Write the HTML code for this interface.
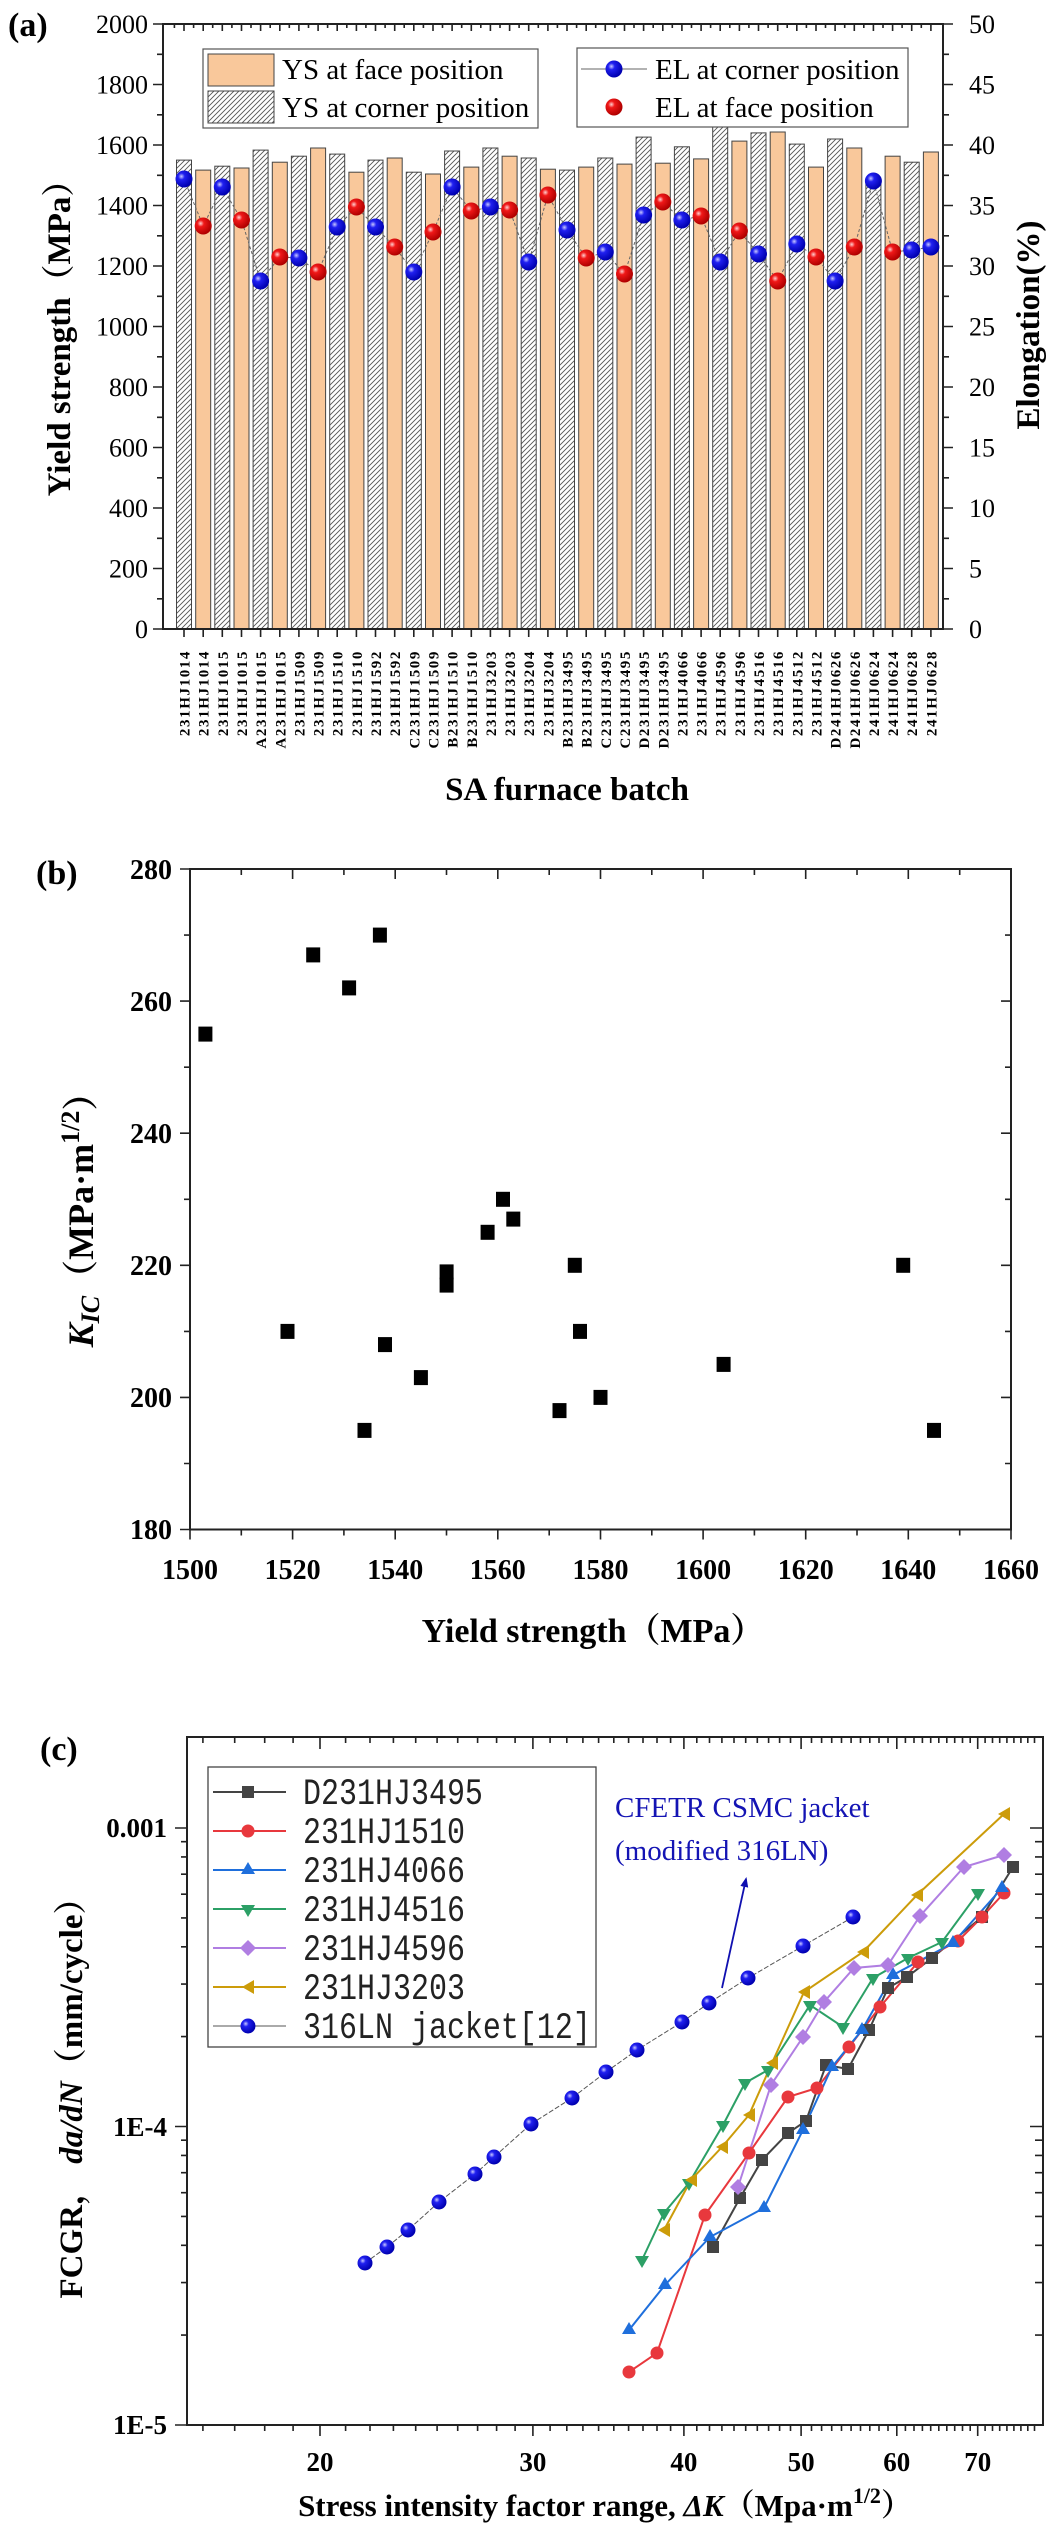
<!DOCTYPE html>
<html><head><meta charset="utf-8"><style>
html,body{margin:0;padding:0;background:#fff;}
svg{display:block;}
.t{font-family:"Liberation Serif","Noto Serif CJK SC",serif;}
.b{font-weight:bold;}
</style></head><body>
<svg width="1062" height="2534" viewBox="0 0 1062 2534" xmlns="http://www.w3.org/2000/svg" class="t">
<defs>
<pattern id="hatch" patternUnits="userSpaceOnUse" width="5" height="5"><rect width="5" height="5" fill="#fff"/><path d="M-1,6 L6,-1 M-1,1 L1,-1 M4,6 L6,4" stroke="#555" stroke-width="0.9"/></pattern>
<radialGradient id="gb" cx="35%" cy="35%" r="65%"><stop offset="0" stop-color="#c8c8ff"/><stop offset="0.3" stop-color="#2020f0"/><stop offset="1" stop-color="#0000b0"/></radialGradient>
<radialGradient id="gr" cx="35%" cy="35%" r="65%"><stop offset="0" stop-color="#ffd0d0"/><stop offset="0.3" stop-color="#f01818"/><stop offset="1" stop-color="#b00000"/></radialGradient>
<marker id="ah" markerWidth="10" markerHeight="10" refX="8" refY="5" orient="auto" markerUnits="userSpaceOnUse"><path d="M0,1 L10,5 L0,9 Z" fill="#1010b0"/></marker>
</defs>

<!-- ================= PANEL A ================= -->
<text x="8" y="36" class="b" font-size="34">(a)</text>
<g stroke="#444" stroke-width="1">
<rect x="176.5" y="160.1" width="15" height="468.9" fill="url(#hatch)"/>
<rect x="195.7" y="170.1" width="15" height="458.9" fill="#f9c89b"/>
<rect x="214.8" y="166.2" width="15" height="462.8" fill="url(#hatch)"/>
<rect x="234" y="168" width="15" height="461" fill="#f9c89b"/>
<rect x="253.1" y="150.1" width="15" height="478.9" fill="url(#hatch)"/>
<rect x="272.3" y="162.2" width="15" height="466.8" fill="#f9c89b"/>
<rect x="291.4" y="156.2" width="15" height="472.8" fill="url(#hatch)"/>
<rect x="310.6" y="148" width="15" height="481" fill="#f9c89b"/>
<rect x="329.7" y="154.1" width="15" height="474.9" fill="url(#hatch)"/>
<rect x="348.9" y="172.2" width="15" height="456.8" fill="#f9c89b"/>
<rect x="368" y="160.1" width="15" height="468.9" fill="url(#hatch)"/>
<rect x="387.2" y="158" width="15" height="471" fill="#f9c89b"/>
<rect x="406.3" y="172.2" width="15" height="456.8" fill="url(#hatch)"/>
<rect x="425.5" y="174" width="15" height="455" fill="#f9c89b"/>
<rect x="444.6" y="151" width="15" height="478" fill="url(#hatch)"/>
<rect x="463.8" y="167.1" width="15" height="461.9" fill="#f9c89b"/>
<rect x="482.9" y="148" width="15" height="481" fill="url(#hatch)"/>
<rect x="502.1" y="156.2" width="15" height="472.8" fill="#f9c89b"/>
<rect x="521.2" y="158" width="15" height="471" fill="url(#hatch)"/>
<rect x="540.4" y="169.2" width="15" height="459.8" fill="#f9c89b"/>
<rect x="559.5" y="170.1" width="15" height="458.9" fill="url(#hatch)"/>
<rect x="578.7" y="167.1" width="15" height="461.9" fill="#f9c89b"/>
<rect x="597.8" y="158" width="15" height="471" fill="url(#hatch)"/>
<rect x="617" y="164.1" width="15" height="464.9" fill="#f9c89b"/>
<rect x="636.1" y="137.1" width="15" height="491.9" fill="url(#hatch)"/>
<rect x="655.3" y="163.2" width="15" height="465.8" fill="#f9c89b"/>
<rect x="674.4" y="146.8" width="15" height="482.2" fill="url(#hatch)"/>
<rect x="693.6" y="158.9" width="15" height="470.1" fill="#f9c89b"/>
<rect x="712.7" y="126.8" width="15" height="502.2" fill="url(#hatch)"/>
<rect x="731.9" y="141.1" width="15" height="487.9" fill="#f9c89b"/>
<rect x="751" y="132.9" width="15" height="496.1" fill="url(#hatch)"/>
<rect x="770.2" y="132" width="15" height="497" fill="#f9c89b"/>
<rect x="789.3" y="144.1" width="15" height="484.9" fill="url(#hatch)"/>
<rect x="808.5" y="167.1" width="15" height="461.9" fill="#f9c89b"/>
<rect x="827.6" y="139" width="15" height="490" fill="url(#hatch)"/>
<rect x="846.8" y="148" width="15" height="481" fill="#f9c89b"/>
<rect x="865.9" y="178.3" width="15" height="450.7" fill="url(#hatch)"/>
<rect x="885.1" y="156.2" width="15" height="472.8" fill="#f9c89b"/>
<rect x="904.2" y="162.2" width="15" height="466.8" fill="url(#hatch)"/>
<rect x="923.4" y="152" width="15" height="477" fill="#f9c89b"/>
</g>
<polyline fill="none" stroke="#666" stroke-width="1" stroke-dasharray="3,2" points="184,179 203.2,226 222.3,187 241.5,220 260.6,281 279.8,257 298.9,258 318.1,272 337.2,227 356.4,207 375.5,227 394.7,247 413.8,272 433,232 452.1,187 471.3,211 490.4,207 509.6,210 528.7,262 547.9,195 567,230 586.2,258 605.3,252 624.5,274 643.6,215 662.8,202 681.9,220 701.1,216 720.2,262 739.4,231 758.5,254 777.7,281 796.8,244 816,257 835.1,281 854.3,247 873.4,181 892.6,252 911.7,250 930.9,247"/>
<g>
<circle cx="184" cy="179" r="8.5" fill="url(#gb)"/><circle cx="203.2" cy="226" r="8.5" fill="url(#gr)"/><circle cx="222.3" cy="187" r="8.5" fill="url(#gb)"/><circle cx="241.5" cy="220" r="8.5" fill="url(#gr)"/><circle cx="260.6" cy="281" r="8.5" fill="url(#gb)"/><circle cx="279.8" cy="257" r="8.5" fill="url(#gr)"/><circle cx="298.9" cy="258" r="8.5" fill="url(#gb)"/><circle cx="318.1" cy="272" r="8.5" fill="url(#gr)"/><circle cx="337.2" cy="227" r="8.5" fill="url(#gb)"/><circle cx="356.4" cy="207" r="8.5" fill="url(#gr)"/><circle cx="375.5" cy="227" r="8.5" fill="url(#gb)"/><circle cx="394.7" cy="247" r="8.5" fill="url(#gr)"/><circle cx="413.8" cy="272" r="8.5" fill="url(#gb)"/><circle cx="433" cy="232" r="8.5" fill="url(#gr)"/><circle cx="452.1" cy="187" r="8.5" fill="url(#gb)"/><circle cx="471.3" cy="211" r="8.5" fill="url(#gr)"/><circle cx="490.4" cy="207" r="8.5" fill="url(#gb)"/><circle cx="509.6" cy="210" r="8.5" fill="url(#gr)"/><circle cx="528.7" cy="262" r="8.5" fill="url(#gb)"/><circle cx="547.9" cy="195" r="8.5" fill="url(#gr)"/><circle cx="567" cy="230" r="8.5" fill="url(#gb)"/><circle cx="586.2" cy="258" r="8.5" fill="url(#gr)"/><circle cx="605.3" cy="252" r="8.5" fill="url(#gb)"/><circle cx="624.5" cy="274" r="8.5" fill="url(#gr)"/><circle cx="643.6" cy="215" r="8.5" fill="url(#gb)"/><circle cx="662.8" cy="202" r="8.5" fill="url(#gr)"/><circle cx="681.9" cy="220" r="8.5" fill="url(#gb)"/><circle cx="701.1" cy="216" r="8.5" fill="url(#gr)"/><circle cx="720.2" cy="262" r="8.5" fill="url(#gb)"/><circle cx="739.4" cy="231" r="8.5" fill="url(#gr)"/><circle cx="758.5" cy="254" r="8.5" fill="url(#gb)"/><circle cx="777.7" cy="281" r="8.5" fill="url(#gr)"/><circle cx="796.8" cy="244" r="8.5" fill="url(#gb)"/><circle cx="816" cy="257" r="8.5" fill="url(#gr)"/><circle cx="835.1" cy="281" r="8.5" fill="url(#gb)"/><circle cx="854.3" cy="247" r="8.5" fill="url(#gr)"/><circle cx="873.4" cy="181" r="8.5" fill="url(#gb)"/><circle cx="892.6" cy="252" r="8.5" fill="url(#gr)"/><circle cx="911.7" cy="250" r="8.5" fill="url(#gb)"/><circle cx="930.9" cy="247" r="8.5" fill="url(#gb)"/>
</g>
<!-- legends A -->
<rect x="203" y="49" width="335" height="79" fill="#fff" stroke="#555" stroke-width="1.2"/>
<rect x="208" y="54" width="66" height="32" fill="#f9c89b" stroke="#444"/>
<rect x="208" y="91" width="66" height="32" fill="url(#hatch)" stroke="#444"/>
<text x="282" y="79" font-size="29">YS at face position</text>
<text x="282" y="117" font-size="29">YS at corner position</text>
<rect x="577" y="48" width="331" height="79" fill="#fff" stroke="#555" stroke-width="1.2"/>
<line x1="581" y1="69" x2="647" y2="69" stroke="#666" stroke-width="1"/>
<circle cx="614" cy="69" r="8.5" fill="url(#gb)"/>
<circle cx="614" cy="107" r="8.5" fill="url(#gr)"/>
<text x="655" y="79" font-size="29">EL at corner position</text>
<text x="655" y="117" font-size="29">EL at face position</text>
<!-- axes A -->
<rect x="163" y="24" width="780" height="605" fill="none" stroke="#222" stroke-width="2"/>
<path stroke="#222" stroke-width="1.6" fill="none" d="M153,629h10M153,568.5h10M153,508h10M153,447.5h10M153,387h10M153,326.5h10M153,266h10M153,205.5h10M153,145h10M153,84.5h10M153,24h10
M157,598.8h6M157,538.3h6M157,477.8h6M157,417.3h6M157,356.8h6M157,296.3h6M157,235.8h6M157,175.3h6M157,114.8h6M157,54.3h6
M943,629h10M943,568.5h10M943,508h10M943,447.5h10M943,387h10M943,326.5h10M943,266h10M943,205.5h10M943,145h10M943,84.5h10M943,24h10
M943,598.8h6M943,538.3h6M943,477.8h6M943,417.3h6M943,356.8h6M943,296.3h6M943,235.8h6M943,175.3h6M943,114.8h6M943,54.3h6
M184,629v8M203.2,629v8M222.3,629v8M241.5,629v8M260.6,629v8M279.8,629v8M298.9,629v8M318.1,629v8M337.2,629v8M356.4,629v8M375.5,629v8M394.7,629v8M413.8,629v8M433,629v8M452.1,629v8M471.3,629v8M490.4,629v8M509.6,629v8M528.7,629v8M547.9,629v8M567,629v8M586.2,629v8M605.3,629v8M624.5,629v8M643.6,629v8M662.8,629v8M681.9,629v8M701.1,629v8M720.2,629v8M739.4,629v8M758.5,629v8M777.7,629v8M796.8,629v8M816,629v8M835.1,629v8M854.3,629v8M873.4,629v8M892.6,629v8M911.7,629v8M930.9,629v8
M184,24v7M203.2,24v7M222.3,24v7M241.5,24v7M260.6,24v7M279.8,24v7M298.9,24v7M318.1,24v7M337.2,24v7M356.4,24v7M375.5,24v7M394.7,24v7M413.8,24v7M433,24v7M452.1,24v7M471.3,24v7M490.4,24v7M509.6,24v7M528.7,24v7M547.9,24v7M567,24v7M586.2,24v7M605.3,24v7M624.5,24v7M643.6,24v7M662.8,24v7M681.9,24v7M701.1,24v7M720.2,24v7M739.4,24v7M758.5,24v7M777.7,24v7M796.8,24v7M816,24v7M835.1,24v7M854.3,24v7M873.4,24v7M892.6,24v7M911.7,24v7M930.9,24v7
M174.4,24v4M193.6,24v4M212.7,24v4M231.9,24v4M251,24v4M270.2,24v4M289.3,24v4M308.5,24v4M327.6,24v4M346.8,24v4M365.9,24v4M385.1,24v4M404.2,24v4M423.4,24v4M442.5,24v4M461.7,24v4M480.8,24v4M500,24v4M519.1,24v4M538.3,24v4M557.4,24v4M576.6,24v4M595.7,24v4M614.9,24v4M634,24v4M653.2,24v4M672.3,24v4M691.5,24v4M710.6,24v4M729.8,24v4M748.9,24v4M768.1,24v4M787.2,24v4M806.4,24v4M825.5,24v4M844.7,24v4M863.8,24v4M883,24v4M902.1,24v4M921.3,24v4"/>
<g font-size="26" text-anchor="end">
<text x="148" y="638">0</text><text x="148" y="577.5">200</text><text x="148" y="517">400</text><text x="148" y="456.5">600</text><text x="148" y="396">800</text><text x="148" y="335.5">1000</text><text x="148" y="275">1200</text><text x="148" y="214.5">1400</text><text x="148" y="154">1600</text><text x="148" y="93.5">1800</text><text x="148" y="33">2000</text>
</g>
<g font-size="26">
<text x="969" y="638">0</text><text x="969" y="577.5">5</text><text x="969" y="517">10</text><text x="969" y="456.5">15</text><text x="969" y="396">20</text><text x="969" y="335.5">25</text><text x="969" y="275">30</text><text x="969" y="214.5">35</text><text x="969" y="154">40</text><text x="969" y="93.5">45</text><text x="969" y="33">50</text>
</g>
<text transform="translate(70,330) rotate(-90)" text-anchor="middle" class="b" font-size="33">Yield strength（MPa）</text>
<text transform="translate(1039,325) rotate(-90)" text-anchor="middle" class="b" font-size="33">Elongation(%)</text>
<g font-size="15" class="b" text-anchor="end" letter-spacing="1.6">
<text transform="translate(189.5,650) rotate(-90)">231HJ1014</text>
<text transform="translate(208.7,650) rotate(-90)">231HJ1014</text>
<text transform="translate(227.8,650) rotate(-90)">231HJ1015</text>
<text transform="translate(247,650) rotate(-90)">231HJ1015</text>
<text transform="translate(266.1,650) rotate(-90)">A231HJ1015</text>
<text transform="translate(285.3,650) rotate(-90)">A231HJ1015</text>
<text transform="translate(304.4,650) rotate(-90)">231HJ1509</text>
<text transform="translate(323.6,650) rotate(-90)">231HJ1509</text>
<text transform="translate(342.7,650) rotate(-90)">231HJ1510</text>
<text transform="translate(361.9,650) rotate(-90)">231HJ1510</text>
<text transform="translate(381,650) rotate(-90)">231HJ1592</text>
<text transform="translate(400.2,650) rotate(-90)">231HJ1592</text>
<text transform="translate(419.3,650) rotate(-90)">C231HJ1509</text>
<text transform="translate(438.5,650) rotate(-90)">C231HJ1509</text>
<text transform="translate(457.6,650) rotate(-90)">B231HJ1510</text>
<text transform="translate(476.8,650) rotate(-90)">B231HJ1510</text>
<text transform="translate(495.9,650) rotate(-90)">231HJ3203</text>
<text transform="translate(515.1,650) rotate(-90)">231HJ3203</text>
<text transform="translate(534.2,650) rotate(-90)">231HJ3204</text>
<text transform="translate(553.4,650) rotate(-90)">231HJ3204</text>
<text transform="translate(572.5,650) rotate(-90)">B231HJ3495</text>
<text transform="translate(591.7,650) rotate(-90)">B231HJ3495</text>
<text transform="translate(610.8,650) rotate(-90)">C231HJ3495</text>
<text transform="translate(630,650) rotate(-90)">C231HJ3495</text>
<text transform="translate(649.1,650) rotate(-90)">D231HJ3495</text>
<text transform="translate(668.3,650) rotate(-90)">D231HJ3495</text>
<text transform="translate(687.4,650) rotate(-90)">231HJ4066</text>
<text transform="translate(706.6,650) rotate(-90)">231HJ4066</text>
<text transform="translate(725.7,650) rotate(-90)">231HJ4596</text>
<text transform="translate(744.9,650) rotate(-90)">231HJ4596</text>
<text transform="translate(764,650) rotate(-90)">231HJ4516</text>
<text transform="translate(783.2,650) rotate(-90)">231HJ4516</text>
<text transform="translate(802.3,650) rotate(-90)">231HJ4512</text>
<text transform="translate(821.5,650) rotate(-90)">231HJ4512</text>
<text transform="translate(840.6,650) rotate(-90)">D241HJ0626</text>
<text transform="translate(859.8,650) rotate(-90)">D241HJ0626</text>
<text transform="translate(878.9,650) rotate(-90)">241HJ0624</text>
<text transform="translate(898.1,650) rotate(-90)">241HJ0624</text>
<text transform="translate(917.2,650) rotate(-90)">241HJ0628</text>
<text transform="translate(936.4,650) rotate(-90)">241HJ0628</text>
</g>
<text x="567" y="800" text-anchor="middle" class="b" font-size="33">SA furnace batch</text>

<!-- ================= PANEL B ================= -->
<text x="36" y="884" class="b" font-size="34">(b)</text>
<rect x="190" y="869" width="821" height="660.5" fill="none" stroke="#222" stroke-width="2"/>
<path stroke="#222" stroke-width="1.6" fill="none" d="M180,869h10M180,1001.1h10M180,1133.2h10M180,1265.3h10M180,1397.4h10M180,1529.5h10
M184,935.1h6M184,1067.2h6M184,1199.3h6M184,1331.4h6M184,1463.5h6
M1011,1001.1h-10M1011,1133.2h-10M1011,1265.3h-10M1011,1397.4h-10
M1011,935.1h-6M1011,1067.2h-6M1011,1199.3h-6M1011,1331.4h-6M1011,1463.5h-6
M190,1529.5v10M292.6,1529.5v10M395.2,1529.5v10M497.8,1529.5v10M600.5,1529.5v10M703.1,1529.5v10M805.7,1529.5v10M908.3,1529.5v10M1011,1529.5v10
M241.3,1529.5v6M343.9,1529.5v6M446.5,1529.5v6M549.2,1529.5v6M651.8,1529.5v6M754.4,1529.5v6M857,1529.5v6M959.7,1529.5v6
M292.6,869v10M395.2,869v10M497.8,869v10M600.5,869v10M703.1,869v10M805.7,869v10M908.3,869v10
M241.3,869v6M343.9,869v6M446.5,869v6M549.2,869v6M651.8,869v6M754.4,869v6M857,869v6M959.7,869v6"/>
<g fill="#000">
<rect x="198.4" y="1026.6" width="14" height="15"/><rect x="280.5" y="1323.9" width="14" height="15"/><rect x="306.2" y="947.4" width="14" height="15"/><rect x="342.1" y="980.4" width="14" height="15"/><rect x="357.5" y="1422.9" width="14" height="15"/><rect x="372.9" y="927.6" width="14" height="15"/><rect x="378" y="1337.1" width="14" height="15"/><rect x="413.9" y="1370.1" width="14" height="15"/><rect x="439.6" y="1264.4" width="14" height="15"/><rect x="439.6" y="1277.6" width="14" height="15"/><rect x="480.6" y="1224.8" width="14" height="15"/><rect x="496" y="1191.8" width="14" height="15"/><rect x="506.3" y="1211.6" width="14" height="15"/><rect x="552.5" y="1403.1" width="14" height="15"/><rect x="567.8" y="1257.8" width="14" height="15"/><rect x="573" y="1323.9" width="14" height="15"/><rect x="593.5" y="1389.9" width="14" height="15"/><rect x="716.6" y="1356.9" width="14" height="15"/><rect x="896.2" y="1257.8" width="14" height="15"/><rect x="927" y="1422.9" width="14" height="15"/>
</g>
<g font-size="28" class="b" text-anchor="end">
<text x="172" y="879">280</text><text x="172" y="1011">260</text><text x="172" y="1143">240</text><text x="172" y="1275">220</text><text x="172" y="1407">200</text><text x="172" y="1539">180</text>
</g>
<g font-size="28" class="b" text-anchor="middle">
<text x="190" y="1579">1500</text><text x="292.6" y="1579">1520</text><text x="395.2" y="1579">1540</text><text x="497.8" y="1579">1560</text><text x="600.5" y="1579">1580</text><text x="703.1" y="1579">1600</text><text x="805.7" y="1579">1620</text><text x="908.3" y="1579">1640</text><text x="1011" y="1579">1660</text>
</g>
<text x="593" y="1642" text-anchor="middle" class="b" font-size="34">Yield strength（MPa）</text>
<text transform="translate(93,1211) rotate(-90)" text-anchor="middle" class="b" font-size="36"><tspan font-style="italic">K</tspan><tspan font-style="italic" font-size="26" dy="6">IC</tspan><tspan dy="-6">（MPa·m</tspan><tspan font-size="26" dy="-14">1/2</tspan><tspan dy="14">）</tspan></text>

<!-- ================= PANEL C ================= -->
<text x="40" y="1760" class="b" font-size="34">(c)</text>
<rect x="187" y="1737" width="856" height="688" fill="none" stroke="#222" stroke-width="2"/>
<path stroke="#222" stroke-width="1.6" fill="none" d="M320,2425v11M532.9,2425v11M683.9,2425v11M801.1,2425v11M896.8,2425v11M977.7,2425v11
M202.9,2425v6M234.7,2425v6M264.7,2425v6M293.1,2425v6M345.6,2425v6M370,2425v6M393.4,2425v6M415.7,2425v6M437.1,2425v6M457.7,2425v6M477.6,2425v6M496.6,2425v6M515.1,2425v6M550.1,2425v6M566.8,2425v6M582.9,2425v6M598.6,2425v6M613.8,2425v6M628.6,2425v6M643,2425v6M657,2425v6M670.6,2425v6M696.8,2425v6M709.5,2425v6M721.9,2425v6M734,2425v6M745.7,2425v6M757.3,2425v6M768.6,2425v6M779.6,2425v6M790.5,2425v6M811.5,2425v6M821.6,2425v6M831.7,2425v6M841.5,2425v6M851.1,2425v6M860.5,2425v6M869.8,2425v6M879,2425v6M888,2425v6M905.4,2425v6M914,2425v6M922.4,2425v6M930.7,2425v6M938.8,2425v6M946.8,2425v6M954.7,2425v6M962.5,2425v6M970.2,2425v6M985.1,2425v6M992.5,2425v6M999.7,2425v6M1006.9,2425v6M1013.9,2425v6M1020.9,2425v6M1027.8,2425v6M1034.5,2425v6
M320,1737v12M532.9,1737v12M683.9,1737v12M801.1,1737v12M896.8,1737v12M977.7,1737v12
M202.9,1737v6M234.7,1737v6M264.7,1737v6M293.1,1737v6M345.6,1737v6M370,1737v6M393.4,1737v6M415.7,1737v6M437.1,1737v6M457.7,1737v6M477.6,1737v6M496.6,1737v6M515.1,1737v6M550.1,1737v6M566.8,1737v6M582.9,1737v6M598.6,1737v6M613.8,1737v6M628.6,1737v6M643,1737v6M657,1737v6M670.6,1737v6M696.8,1737v6M709.5,1737v6M721.9,1737v6M734,1737v6M745.7,1737v6M757.3,1737v6M768.6,1737v6M779.6,1737v6M790.5,1737v6M811.5,1737v6M821.6,1737v6M831.7,1737v6M841.5,1737v6M851.1,1737v6M860.5,1737v6M869.8,1737v6M879,1737v6M888,1737v6M905.4,1737v6M914,1737v6M922.4,1737v6M930.7,1737v6M938.8,1737v6M946.8,1737v6M954.7,1737v6M962.5,1737v6M970.2,1737v6M985.1,1737v6M992.5,1737v6M999.7,1737v6M1006.9,1737v6M1013.9,1737v6M1020.9,1737v6M1027.8,1737v6M1034.5,1737v6
M175,1828h12M175,2126.5h12M175,2425h12
M181,2335.1h6M181,2282.6h6M181,2245.3h6M181,2216.4h6M181,2192.7h6M181,2172.7h6M181,2155.4h6M181,2140.2h6M181,2036.6h6M181,1984.1h6M181,1946.8h6M181,1917.9h6M181,1894.2h6M181,1874.2h6M181,1856.9h6M181,1841.7h6
M1043,1828h-13M1043,2126.5h-13
M1043,2335.1h-8M1043,2282.6h-8M1043,2245.3h-8M1043,2216.4h-8M1043,2192.7h-8M1043,2172.7h-8M1043,2155.4h-8M1043,2140.2h-8M1043,2036.6h-8M1043,1984.1h-8M1043,1946.8h-8M1043,1917.9h-8M1043,1894.2h-8M1043,1874.2h-8M1043,1856.9h-8M1043,1841.7h-8"/>
<g font-size="27" class="b" text-anchor="end">
<text x="167" y="1837">0.001</text><text x="167" y="2136">1E-4</text><text x="167" y="2434">1E-5</text>
</g>
<g font-size="27" class="b" text-anchor="middle">
<text x="320" y="2471">20</text><text x="532.9" y="2471">30</text><text x="683.9" y="2471">40</text><text x="801.1" y="2471">50</text><text x="896.8" y="2471">60</text><text x="977.7" y="2471">70</text>
</g>
<text x="605" y="2516" text-anchor="middle" class="b" font-size="31">Stress intensity factor range,  <tspan font-style="italic">ΔK</tspan>（Mpa·m<tspan font-size="22" dy="-13">1/2</tspan><tspan dy="13">）</tspan></text>
<text transform="translate(82,2090) rotate(-90)" text-anchor="middle" class="b" font-size="33">FCGR，  <tspan font-style="italic">da/dN</tspan>（mm/cycle）</text>

<!-- series -->
<g fill="none" stroke-width="2">
<polyline stroke="#444" points="713,2247 740,2198 762,2160 788,2133 806,2121 826,2065 848,2069 869,2030 888,1988 907,1977 932,1958 982,1917 1013,1867"/>
<polyline stroke="#e8383d" points="629,2372 657,2353 705,2215 749,2153 788,2097 817,2088 849,2047 880,2007 918,1962 958,1941 982,1917 1004,1893"/>
<polyline stroke="#1f6fdc" points="629,2330 665,2285 710,2237 764,2208 803,2130 832,2067 862,2030 893,1975 953,1943 1002,1888"/>
<polyline stroke="#2ca066" points="642,2260 664,2213 689,2183 723,2125 745,2083 768,2070 810,2005 843,2027 873,1978 908,1958 942,1942 978,1893"/>
<polyline stroke="#b07ee2" points="738,2187 771,2085 803,2037 824,2002 854,1968 888,1965 920,1916 964,1867 1004,1855"/>
<polyline stroke="#cc9c0a" points="664,2230 691,2180 722,2147 749,2115 772,2063 804,1992 863,1952 917,1895 1004,1814"/>
<polyline stroke="#555" stroke-width="1" stroke-dasharray="5,2" points="365,2263 387,2247 408,2230 439,2202 475,2174 494,2157 531,2124 572,2098 606,2072 637,2050 682,2022 709,2003 748,1978 803,1946 853,1917"/>
</g>
<g fill="#444">
<rect x="707" y="2241" width="12" height="12"/><rect x="734" y="2192" width="12" height="12"/><rect x="756" y="2154" width="12" height="12"/><rect x="782" y="2127" width="12" height="12"/><rect x="800" y="2115" width="12" height="12"/><rect x="820" y="2059" width="12" height="12"/><rect x="842" y="2063" width="12" height="12"/><rect x="863" y="2024" width="12" height="12"/><rect x="882" y="1982" width="12" height="12"/><rect x="901" y="1971" width="12" height="12"/><rect x="926" y="1952" width="12" height="12"/><rect x="976" y="1911" width="12" height="12"/><rect x="1007" y="1861" width="12" height="12"/>
</g>
<g fill="#e8383d">
<circle cx="629" cy="2372" r="6.5"/><circle cx="657" cy="2353" r="6.5"/><circle cx="705" cy="2215" r="6.5"/><circle cx="749" cy="2153" r="6.5"/><circle cx="788" cy="2097" r="6.5"/><circle cx="817" cy="2088" r="6.5"/><circle cx="849" cy="2047" r="6.5"/><circle cx="880" cy="2007" r="6.5"/><circle cx="918" cy="1962" r="6.5"/><circle cx="958" cy="1941" r="6.5"/><circle cx="982" cy="1917" r="6.5"/><circle cx="1004" cy="1893" r="6.5"/>
</g>
<g fill="#1f6fdc">
<path d="M629,2322l7,12h-14z M665,2277l7,12h-14z M710,2229l7,12h-14z M764,2200l7,12h-14z M803,2122l7,12h-14z M832,2059l7,12h-14z M862,2022l7,12h-14z M893,1967l7,12h-14z M953,1935l7,12h-14z M1002,1880l7,12h-14z"/>
</g>
<g fill="#2ca066">
<path d="M642,2268l7,-12h-14z M664,2221l7,-12h-14z M689,2191l7,-12h-14z M723,2133l7,-12h-14z M745,2091l7,-12h-14z M768,2078l7,-12h-14z M810,2013l7,-12h-14z M843,2035l7,-12h-14z M873,1986l7,-12h-14z M908,1966l7,-12h-14z M942,1950l7,-12h-14z M978,1901l7,-12h-14z"/>
</g>
<g fill="#b07ee2">
<path d="M738,2179l8,8l-8,8l-8,-8z M771,2077l8,8l-8,8l-8,-8z M803,2029l8,8l-8,8l-8,-8z M824,1994l8,8l-8,8l-8,-8z M854,1960l8,8l-8,8l-8,-8z M888,1957l8,8l-8,8l-8,-8z M920,1908l8,8l-8,8l-8,-8z M964,1859l8,8l-8,8l-8,-8z M1004,1847l8,8l-8,8l-8,-8z"/>
</g>
<g fill="#cc9c0a">
<path d="M658,2230l12,-7v14z M685,2180l12,-7v14z M716,2147l12,-7v14z M743,2115l12,-7v14z M766,2063l12,-7v14z M798,1992l12,-7v14z M857,1952l12,-7v14z M911,1895l12,-7v14z M998,1814l12,-7v14z"/>
</g>
<g>
<circle cx="365" cy="2263" r="7.5" fill="url(#gb)"/><circle cx="387" cy="2247" r="7.5" fill="url(#gb)"/><circle cx="408" cy="2230" r="7.5" fill="url(#gb)"/><circle cx="439" cy="2202" r="7.5" fill="url(#gb)"/><circle cx="475" cy="2174" r="7.5" fill="url(#gb)"/><circle cx="494" cy="2157" r="7.5" fill="url(#gb)"/><circle cx="531" cy="2124" r="7.5" fill="url(#gb)"/><circle cx="572" cy="2098" r="7.5" fill="url(#gb)"/><circle cx="606" cy="2072" r="7.5" fill="url(#gb)"/><circle cx="637" cy="2050" r="7.5" fill="url(#gb)"/><circle cx="682" cy="2022" r="7.5" fill="url(#gb)"/><circle cx="709" cy="2003" r="7.5" fill="url(#gb)"/><circle cx="748" cy="1978" r="7.5" fill="url(#gb)"/><circle cx="803" cy="1946" r="7.5" fill="url(#gb)"/><circle cx="853" cy="1917" r="7.5" fill="url(#gb)"/>
</g>
<!-- annotation -->
<text x="615" y="1817" font-size="29" fill="#1414b4">CFETR CSMC jacket</text>
<text x="615" y="1860" font-size="29" fill="#1414b4">(modified 316LN)</text>
<line x1="722" y1="1988" x2="746" y2="1879" stroke="#1010b0" stroke-width="1.8" marker-end="url(#ah)"/>
<!-- legend C -->
<rect x="208" y="1767" width="388" height="280" fill="#fff" stroke="#444" stroke-width="1.3"/>
<g stroke-width="2">
<line x1="213" y1="1792" x2="286" y2="1792" stroke="#444"/><rect x="242" y="1786" width="12" height="12" fill="#444"/>
<line x1="213" y1="1831" x2="286" y2="1831" stroke="#e8383d"/><circle cx="248" cy="1831" r="6.5" fill="#e8383d"/>
<line x1="213" y1="1870" x2="286" y2="1870" stroke="#1f6fdc"/><path d="M248,1862l7,12h-14z" fill="#1f6fdc"/>
<line x1="213" y1="1909" x2="286" y2="1909" stroke="#2ca066"/><path d="M248,1917l7,-12h-14z" fill="#2ca066"/>
<line x1="213" y1="1948" x2="286" y2="1948" stroke="#b07ee2"/><path d="M248,1940l8,8l-8,8l-8,-8z" fill="#b07ee2"/>
<line x1="213" y1="1987" x2="286" y2="1987" stroke="#cc9c0a"/><path d="M242,1987l12,-7v14z" fill="#cc9c0a"/>
<line x1="213" y1="2026" x2="286" y2="2026" stroke="#555" stroke-width="1"/><circle cx="248" cy="2026" r="7.5" fill="url(#gb)"/>
</g>
<g font-family="'Liberation Mono',monospace" font-size="30" fill="#222">
<text transform="translate(303,1804) scale(1,1.25)">D231HJ3495</text>
<text transform="translate(303,1843) scale(1,1.25)">231HJ1510</text>
<text transform="translate(303,1882) scale(1,1.25)">231HJ4066</text>
<text transform="translate(303,1921) scale(1,1.25)">231HJ4516</text>
<text transform="translate(303,1960) scale(1,1.25)">231HJ4596</text>
<text transform="translate(303,1999) scale(1,1.25)">231HJ3203</text>
<text transform="translate(303,2038) scale(1,1.25)">316LN jacket[12]</text>
</g>
</svg>
</body></html>
